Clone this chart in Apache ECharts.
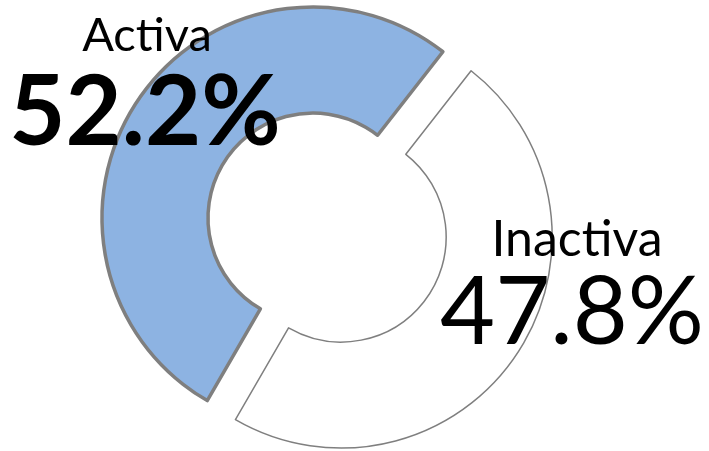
<!DOCTYPE html>
<html>
<head>
<meta charset="utf-8">
<script src="https://cdn.jsdelivr.net/npm/echarts@6/dist/echarts.min.js"></script>
<style>
  html, body { margin: 0; padding: 0; background: #fff; }
  #chart { width: 709px; height: 451px; }
</style>
</head>
<body>
<div id="chart"></div>
<script>
// values
const categories = ["Activa", "Inactiva"];
const shares = [52.2, 47.8];

const fills = ["#8db3e2", "#ffffff"];
const borders = [3.5, 1.5];
// label placement per slice: [x, y] of name and value, font sizes, weight
const namePos = [[147, 36], [577, 240]];
const valuePos = [[145, 114], [572, 313]];
const nameSize = [47, 50];
const valueSize = [97, 95];
const valueWeight = ["bold", "normal"];

const chart = echarts.init(document.getElementById("chart"));

const data = categories.map((name, i) => {
  const style = { color: fills[i], borderColor: "#7f7f7f", borderWidth: borders[i] };
  return {
    name: name,
    value: shares[i],
    selected: i === 1,
    itemStyle: style,
    select: { itemStyle: style }
  };
});

const texts = [];
categories.forEach((name, i) => {
  texts.push({
    type: "text", z: 100,
    style: {
      text: name, x: namePos[i][0], y: namePos[i][1],
      fill: "#000", font: nameSize[i] + "px Lato",
      align: "center", verticalAlign: "middle"
    }
  });
  texts.push({
    type: "text", z: 100,
    style: {
      text: shares[i].toFixed(1) + "%", x: valuePos[i][0], y: valuePos[i][1],
      fill: "#000", font: valueWeight[i] + " " + valueSize[i] + "px Lato",
      align: "center", verticalAlign: "middle"
    }
  });
});

chart.setOption({
  animation: false,
  graphic: texts,
  series: [{
    type: "pie",
    center: [313, 218],
    radius: [105, 211],
    startAngle: 52,
    clockwise: false,
    selectedMode: "single",
    selectedOffset: 34,
    emphasis: { disabled: true },
    label: { show: false },
    labelLine: { show: false },
    data: data
  }]
});
</script>
</body>
</html>
